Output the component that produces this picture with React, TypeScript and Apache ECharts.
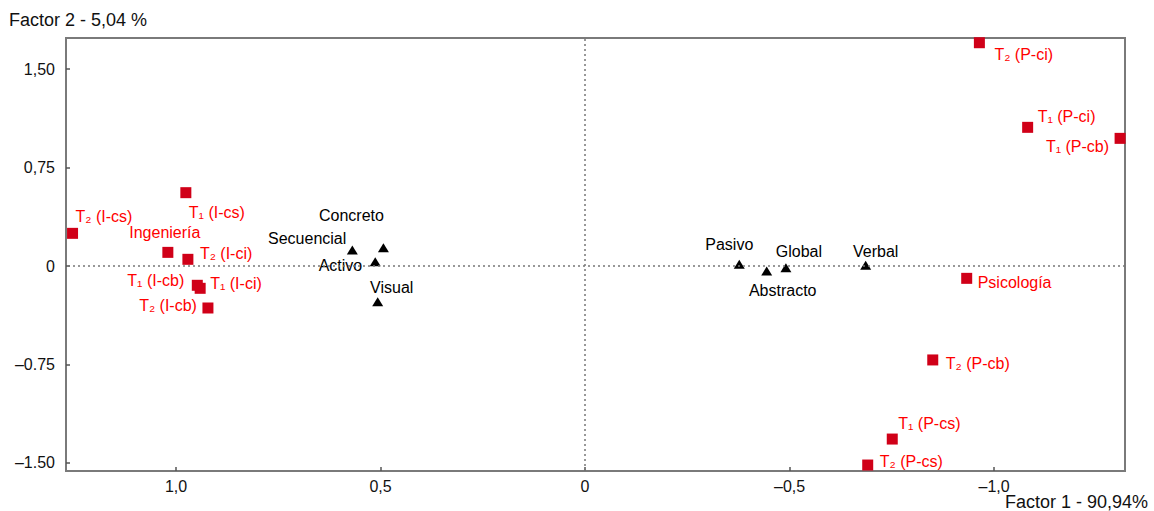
import React, { useEffect, useRef } from "react";
import * as echarts from "echarts";

// ---- data ----
const groupNames = [
  "T₂ (I-cs)", "T₁ (I-cs)", "Ingeniería", "T₂ (I-ci)", "T₁ (I-cb)", "T₁ (I-ci)", "T₂ (I-cb)",
  "T₂ (P-ci)", "T₁ (P-ci)", "T₁ (P-cb)", "Psicología", "T₂ (P-cb)", "T₁ (P-cs)", "T₂ (P-cs)",
];
const groupX = [1.253, 0.976, 1.02, 0.971, 0.948, 0.941, 0.922, -0.964, -1.082, -1.308, -0.933, -0.85, -0.751, -0.691];
const groupY = [0.249, 0.559, 0.104, 0.051, -0.147, -0.17, -0.32, 1.702, 1.057, 0.973, -0.094, -0.716, -1.319, -1.517];

const styleNames = ["Secuencial", "Concreto", "Activo", "Visual", "Pasivo", "Abstracto", "Global", "Verbal"];
const styleX = [0.569, 0.493, 0.513, 0.507, -0.377, -0.444, -0.491, -0.686];
const styleY = [0.122, 0.139, 0.033, -0.272, 0.013, -0.038, -0.013, 0.005];

const xTickValues = [1, 0.5, 0, -0.5, -1];
const xTickLabels = ["1,0", "0,5", "0", "–0,5", "–1,0"];
const yTickValues = [1.5, 0.75, 0, -0.75, -1.5];
const yTickLabels = ["1,50", "0,75", "0", "–0.75", "–1.50"];

const xAxisTitle = "Factor 1 - 90,94%";
const yAxisTitle = "Factor 2 - 5,04 %";

// ---- label layout (style only): [align, dx, dy] ----
const groupLabelLayout: [string, number, number][] = [
  ["left", 3, -17], ["left", 3, 20], ["center", -3, -20], ["left", 12, -6], ["right", -13, -5],
  ["left", 10, -5], ["right", -11, -2], ["left", 15, 12], ["left", 10, -11], ["right", -11, 8],
  ["left", 11, 4], ["left", 13, 4], ["left", 6, -16], ["left", 12, -4],
];
const styleLabelLayout: [string, number, number][] = [
  ["right", -6, -12], ["center", -32, -32], ["right", -13, 4], ["center", 14, -14],
  ["center", -10, -20], ["center", 16, 20], ["center", 13, -16], ["center", 10, -14],
];

const FONT = "'Liberation Sans', Arial, Helvetica, sans-serif";

export default function App() {
  const ref = useRef<HTMLDivElement>(null);
  useEffect(() => {
    if (!ref.current) return;
    const chart = echarts.init(ref.current, undefined, { renderer: "svg" });
    const fmt = (vals: number[], labels: string[]) => (v: number) => {
      const i = vals.findIndex((t) => Math.abs(t - v) < 1e-6);
      return i >= 0 ? labels[i] : "";
    };
    const groupData = groupNames.map((n, i) => ({
      name: n,
      value: [groupX[i], groupY[i]],
      label: { align: groupLabelLayout[i][0], offset: [groupLabelLayout[i][1], groupLabelLayout[i][2]] },
    }));
    const styleData = styleNames.map((n, i) => ({
      name: n,
      value: [styleX[i], styleY[i]],
      label: { align: styleLabelLayout[i][0], offset: [styleLabelLayout[i][1], styleLabelLayout[i][2]] },
    }));
    chart.setOption({
      animation: false,
      textStyle: { fontFamily: FONT },
      title: [
        { text: yAxisTitle, left: 9, top: 11, padding: 0, textStyle: { fontFamily: FONT, fontSize: 18, fontWeight: "normal", color: "#111" } },
        { text: xAxisTitle, right: 6, top: 493, padding: 0, textStyle: { fontFamily: FONT, fontSize: 18, fontWeight: "normal", color: "#111" } },
      ],
      grid: { left: 66, right: 29, top: 38, bottom: 40, show: true, borderColor: "#7a7a7a", borderWidth: 2, backgroundColor: "transparent" },
      xAxis: {
        type: "value",
        inverse: true,
        min: -1.32,
        max: 1.269,
        axisLine: { show: false, onZero: false },
        splitLine: { show: false },
        axisTick: { show: true, inside: true, length: 4, customValues: xTickValues, lineStyle: { color: "#555", width: 1.5 } },
        axisLabel: { customValues: xTickValues, formatter: fmt(xTickValues, xTickLabels), fontSize: 16, color: "#111", margin: 7, fontFamily: FONT },
      },
      yAxis: {
        type: "value",
        min: -1.5625,
        max: 1.738,
        axisLine: { show: false, onZero: false },
        splitLine: { show: false },
        axisTick: { show: true, inside: true, length: 4, customValues: yTickValues, lineStyle: { color: "#555", width: 1.5 } },
        axisLabel: { customValues: yTickValues, formatter: fmt(yTickValues, yTickLabels), fontSize: 16, color: "#111", margin: 11, fontFamily: FONT },
      },
      series: [
        {
          type: "scatter",
          data: [],
          z: 1,
          silent: true,
          markLine: {
            silent: true,
            symbol: ["none", "none"],
            label: { show: false },
            lineStyle: { color: "#777", type: [2, 3], width: 1.5 },
            data: [{ xAxis: 0 }, { yAxis: 0 }],
          },
        },
        {
          type: "scatter",
          z: 3,
          symbol: "rect",
          symbolSize: 11,
          itemStyle: { color: "#d00018", opacity: 1 },
          label: { show: true, position: "inside", formatter: "{b}", verticalAlign: "middle", fontSize: 16, color: "#ff0000", textBorderWidth: 0, fontFamily: FONT },
          data: groupData,
        },
        {
          type: "scatter",
          z: 3,
          symbol: "triangle",
          symbolSize: [11, 9],
          itemStyle: { color: "#000", opacity: 1 },
          label: { show: true, position: "inside", formatter: "{b}", verticalAlign: "middle", fontSize: 16, color: "#000", textBorderWidth: 0, fontFamily: FONT },
          data: styleData,
        },
      ],
    });
    return () => chart.dispose();
  }, []);
  return <div ref={ref} style={{ position: "absolute", left: 0, top: 0, width: 1154, height: 511 }} />;
}
